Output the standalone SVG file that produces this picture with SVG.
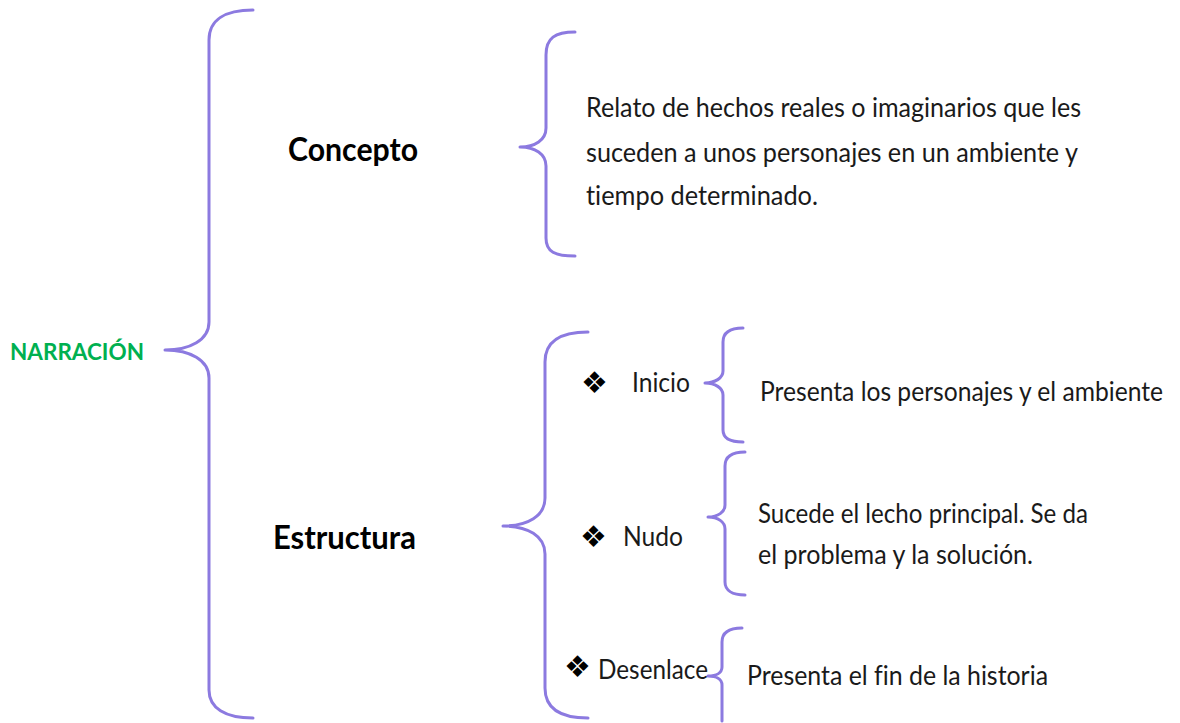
<svg xmlns="http://www.w3.org/2000/svg" width="1180" height="723" viewBox="0 0 1180 723">
<style>
.br{fill:none;stroke:#8c7ae0;stroke-width:3;stroke-linecap:round;stroke-linejoin:round}
.t{font-family:Lato,"Open Sans","Liberation Sans",sans-serif;fill:#1a1a1a;font-size:26px;font-variant-ligatures:none}
.h{font-family:Lato,"Open Sans","Liberation Sans",sans-serif;font-weight:bold;fill:#000;font-size:33px}
.d{font-family:"DejaVu Sans",sans-serif;fill:#000;font-size:30px}
</style>
<rect width="1180" height="723" fill="#fff"/>
<g id="connectors">
<path class="br" d="M253,10 C225,10 209,20 209,40 L209,322 C209,340 190,350 165,350 C190,350 209,360 209,378 L209,690 C209,708 225,718 253,718"/>
<path class="br" d="M575,32 C555,32 546,38 546,55 L546,128 C546,140 535,147 520,147 C535,147 546,154 546,166 L546,238 C546,252 555,256 575,256"/>
<path class="br" d="M588,332 C560,332 545,342 545,362 L545,498 C545,516 528,526 503,526 C528,526 545,536 545,554 L545,688 C545,708 560,718 588,718"/>
<path class="br" d="M743,328 C730,328 723,333 723,342 L723,371 C723,378 715,383 705,383 C715,383 723,388 723,395 L723,430 C723,438 730,442 743,442"/>
<path class="br" d="M745,452 C732,452 725,457 725,466 L725,505 C725,512 718,517 708,517 C718,517 725,522 725,529 L725,582 C725,590 732,595 745,595"/>
<path class="br" d="M742,628 C729,628 722,633 722,642 L722,667 C722,673 716,676 708,676 C716,676 722,679 722,685 L722,721"/>
</g>
<g id="narracion">
<text x="10" y="360" font-family="Lato,'Open Sans','Liberation Sans',sans-serif" font-weight="bold" font-size="23" fill="#00b050" textLength="134" lengthAdjust="spacingAndGlyphs">NARRACIÓN</text>
</g>
<g id="concepto">
<text class="h" x="288" y="161" textLength="130" lengthAdjust="spacingAndGlyphs">Concepto</text>
</g>
<g id="concepto-def">
<text class="t" x="586" y="117" textLength="495" lengthAdjust="spacingAndGlyphs">Relato de hechos reales o imaginarios que les</text>
<text class="t" x="586" y="162" textLength="492" lengthAdjust="spacingAndGlyphs">suceden a unos personajes en un ambiente y</text>
<text class="t" x="586" y="205" textLength="232" lengthAdjust="spacingAndGlyphs">tiempo determinado.</text>
</g>
<g id="estructura">
<text class="h" x="273" y="549" textLength="143" lengthAdjust="spacingAndGlyphs">Estructura</text>
</g>
<g id="inicio">
<text class="d" x="581" y="393">❖</text>
<text class="t" x="632" y="392" textLength="58" lengthAdjust="spacingAndGlyphs">Inicio</text>
</g>
<g id="inicio-def">
<text class="t" x="760" y="401" textLength="403" lengthAdjust="spacingAndGlyphs">Presenta los personajes y el ambiente</text>
</g>
<g id="nudo">
<text class="d" x="580" y="547">❖</text>
<text class="t" x="623" y="546" textLength="60" lengthAdjust="spacingAndGlyphs">Nudo</text>
</g>
<g id="nudo-def">
<text class="t" x="758" y="523" textLength="330" lengthAdjust="spacingAndGlyphs">Sucede el lecho principal. Se da</text>
<text class="t" x="758" y="564" textLength="275" lengthAdjust="spacingAndGlyphs">el problema y la solución.</text>
</g>
<g id="desenlace">
<text class="d" x="564" y="677">❖</text>
<text class="t" x="598" y="679" textLength="110" lengthAdjust="spacingAndGlyphs">Desenlace</text>
</g>
<g id="desenlace-def">
<text class="t" x="747" y="685" textLength="301" lengthAdjust="spacingAndGlyphs">Presenta el fin de la historia</text>
</g>
</svg>
